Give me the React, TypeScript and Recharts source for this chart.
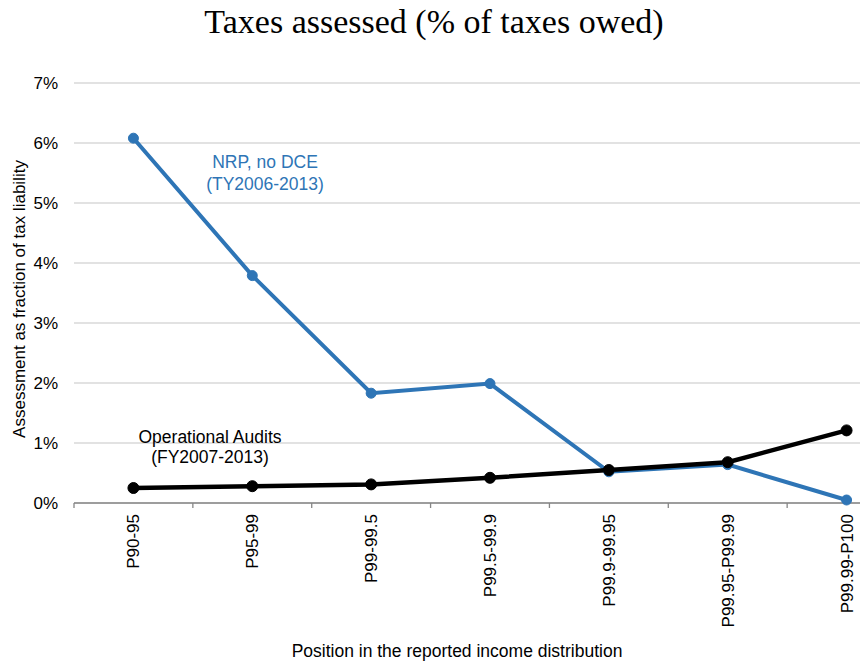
import React from 'react';
import { LineChart, Line, XAxis, YAxis, CartesianGrid } from 'recharts';

const categories = ['P90-95', 'P95-99', 'P99-99.5', 'P99.5-99.9', 'P99.9-99.95', 'P99.95-P99.99', 'P99.99-P100'];
const nrpValues = [6.08, 3.79, 1.83, 1.99, 0.52, 0.64, 0.05];
const operationalValues = [0.25, 0.28, 0.31, 0.42, 0.55, 0.68, 1.21];
const yTicks = [0, 1, 2, 3, 4, 5, 6, 7];

const data = categories.map((name, i) => ({
  name,
  nrp: nrpValues[i],
  operational: operationalValues[i],
}));

const SANS = '"Liberation Sans", Arial, sans-serif';
const BLUE = '#2E75B6';
const AXIS_GREY = '#868686';

// chart geometry (the plot runs past the right edge of the picture, like the original)
const CHART_W = 928;
const MARGIN = { top: 83, right: 22, left: 8, bottom: 0 };
const Y_AXIS_W = 66;
const BAND = (CHART_W - MARGIN.left - MARGIN.right - Y_AXIS_W) / categories.length;

// label plus the small tick mark at the left edge of each band
const CategoryTick = (props: any) => {
  const { x, y, payload } = props;
  const edge = x - BAND / 2;
  return (
    <g>
      <line x1={edge} y1={y} x2={edge} y2={y + 5} stroke={AXIS_GREY} strokeWidth={1.3} />
      <text
        x={x}
        y={y + 11}
        transform={`rotate(-90, ${x}, ${y + 11})`}
        textAnchor="end"
        dy="0.35em"
        fontSize={17}
        fontFamily={SANS}
        fill="#000"
      >
        {payload.value}
      </text>
    </g>
  );
};

const App: React.FC = () => {
  return (
    <div
      style={{
        position: 'absolute',
        left: 0,
        top: 0,
        width: 860,
        height: 662,
        overflow: 'hidden',
        background: '#fff',
      }}
    >
      <LineChart width={CHART_W} height={662} data={data} margin={MARGIN}>
        <CartesianGrid vertical={false} stroke="#D9D9D9" strokeWidth={1.3} />
        <XAxis
          dataKey="name"
          scale="band"
          axisLine={{ stroke: AXIS_GREY, strokeWidth: 1.3 }}
          tickLine={false}
          tickSize={0}
          tickMargin={0}
          interval={0}
          height={159}
          tick={<CategoryTick />}
        />
        <YAxis
          width={Y_AXIS_W}
          domain={[0, 7]}
          ticks={yTicks}
          axisLine={false}
          tickLine={false}
          tickSize={6}
          tickMargin={10}
          tickFormatter={(v) => `${v}%`}
          tick={{ fontSize: 17, fontFamily: SANS, fill: '#000' }}
        />
        <Line
          type="linear"
          dataKey="nrp"
          stroke={BLUE}
          strokeWidth={4}
          dot={{ r: 5, fill: BLUE, stroke: BLUE, strokeWidth: 1 }}
          isAnimationActive={false}
        />
        <Line
          type="linear"
          dataKey="operational"
          stroke="#000"
          strokeWidth={4.5}
          dot={{ r: 5.5, fill: '#000', stroke: '#000', strokeWidth: 1 }}
          isAnimationActive={false}
        />
      </LineChart>
      <svg
        width={860}
        height={662}
        style={{ position: 'absolute', left: 0, top: 0, pointerEvents: 'none' }}
      >
        <text x={434} y={33} textAnchor="middle" fontSize={34} fontFamily='"Liberation Serif", "Times New Roman", serif' fill="#000">
          Taxes assessed (% of taxes owed)
        </text>
        <text
          x={19}
          y={299}
          transform="rotate(-90, 19, 299)"
          textAnchor="middle"
          dy="0.35em"
          fontSize={17}
          fontFamily={SANS}
          fill="#000"
        >
          Assessment as fraction of tax liability
        </text>
        <text x={457} y={657} textAnchor="middle" fontSize={17.5} fontFamily={SANS} fill="#000">
          Position in the reported income distribution
        </text>
        <text textAnchor="middle" fontSize={17.5} fontFamily={SANS} fill={BLUE}>
          <tspan x={265} y={168}>NRP, no DCE</tspan>
          <tspan x={265} y={190}>(TY2006-2013)</tspan>
        </text>
        <text textAnchor="middle" fontSize={17.5} fontFamily={SANS} fill="#000">
          <tspan x={210} y={443}>Operational Audits</tspan>
          <tspan x={210} y={463}>(FY2007-2013)</tspan>
        </text>
      </svg>
    </div>
  );
};

export default App;
